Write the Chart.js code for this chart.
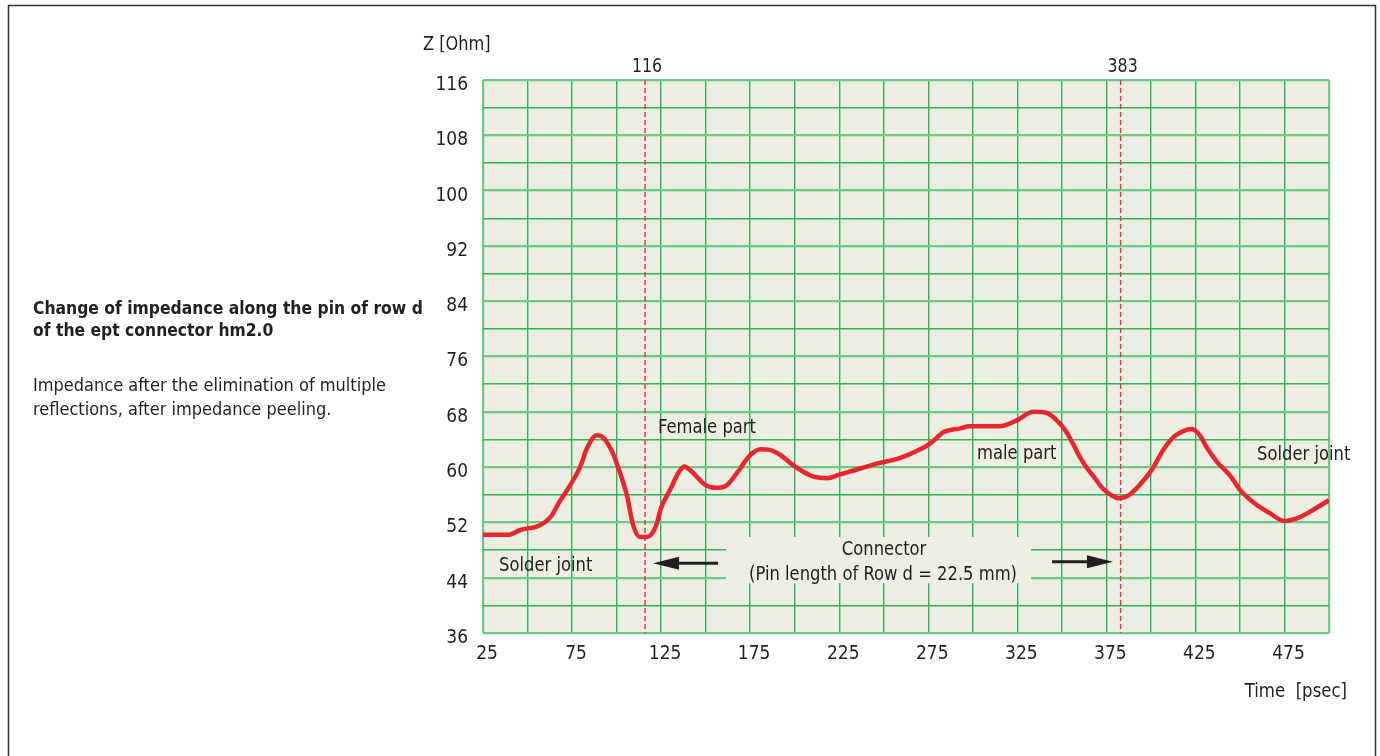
<!DOCTYPE html>
<html>
<head>
<meta charset="utf-8">
<script src="https://cdn.jsdelivr.net/npm/chart.js@4.4.1/dist/chart.umd.min.js"></script>
<style>
  html, body { margin: 0; padding: 0; background: #ffffff; }
  #wrap { width: 1380px; height: 756px; position: relative; }
</style>
</head>
<body>
<div id="wrap"><canvas id="c" width="1380" height="756"></canvas></div>
<script>
// ---- data ----
const timePs = [25, 39, 46, 57, 63, 68, 74, 80, 83, 89, 92, 97, 100, 106, 109, 113, 117, 122, 125, 130,
  135, 138, 142, 150, 156, 162, 168, 175, 181, 186, 192, 198, 205, 211, 218, 225, 237, 246, 259, 270,
  276, 284, 293, 298, 315, 325, 334, 341, 347, 352, 356, 360, 364, 368, 373, 378, 382, 388, 396, 401,
  407, 413, 420, 423, 428, 431, 437, 445, 450, 458, 467, 475, 484, 491, 500];
const impedanceOhm = [50.2, 50.2, 50.9, 51.6, 52.8, 55.0, 57.4, 60.3, 62.5, 64.6, 64.4, 62.5, 60.6, 55.7, 51.9, 49.9, 49.9, 51.4, 54.1, 56.7,
  59.3, 60.1, 59.4, 57.4, 57.0, 57.4, 59.3, 61.75, 62.6, 62.5, 61.75, 60.5, 59.3, 58.6, 58.4, 58.9, 59.8, 60.5, 61.3, 62.5,
  63.4, 65.1, 65.6, 65.9, 65.9, 66.8, 68.0, 67.9, 66.8, 65.3, 63.5, 61.5, 59.9, 58.6, 56.9, 55.9, 55.5, 56.0, 58.1, 59.8,
  62.5, 64.4, 65.4, 65.5, 64.4, 63.0, 60.8, 58.6, 56.7, 54.8, 53.3, 52.2, 52.8, 53.8, 55.2];
const markerTimes = [116, 383];
const xTickLabels = [25, 75, 125, 175, 225, 275, 325, 375, 425, 475];
const yTickLabels = [36, 44, 52, 60, 68, 76, 84, 92, 100, 108, 116];

// ---- style ----
const FONT = "'Liberation Sans Narrow', 'Arial Narrow', 'DejaVu Sans Condensed', sans-serif";
const TEXT = '#231f20';
const PLOT_BG = '#edede1';
const GRID_MAJOR = '#6acb85';
const GRID_MINOR = '#2fb356';
const CURVE = '#e8262d';
const SQUEEZE = 0.91;

const plotLabels = [
  { text: 'Female part', t: 123.3, z: 64.9, align: 'left' },
  { text: 'Solder joint', t: 34, z: 45.0, align: 'left' },
  { text: 'male part', t: 302.4, z: 61.2, align: 'left' },
  { text: 'Solder joint', t: 459.6, z: 61.0, align: 'left' },
  { text: 'Connector', t: 250.2, z: 47.3, align: 'center' },
  { text: '(Pin length of Row d = 22.5 mm)', t: 249.6, z: 43.7, align: 'center' }
];
const arrows = [
  { from: 157, to: 120.5, z: 46.1 },
  { from: 344.5, to: 378.7, z: 46.3 }
];
const labelBox = { t0: 161.4, t1: 332.7, z0: 43.2, z1: 49.9 };

function drawText(ctx, text, x, y, align, sx) {
  ctx.save();
  ctx.translate(x, y);
  ctx.scale(sx, 1);
  ctx.textAlign = align;
  ctx.fillText(text, 0, 0);
  ctx.restore();
}

const decor = {
  id: 'decor',
  beforeDraw(chart) {
    const { ctx, chartArea: a } = chart;
    ctx.save();
    ctx.fillStyle = '#ffffff';
    ctx.fillRect(0, 0, chart.width, chart.height);
    ctx.fillStyle = PLOT_BG;
    ctx.fillRect(a.left, a.top, a.right - a.left, a.bottom - a.top);
    ctx.restore();
  },
  beforeDatasetsDraw(chart) {
    const { ctx, chartArea: a, scales: { x, y } } = chart;
    ctx.save();
    // background patch behind the connector label
    ctx.fillStyle = PLOT_BG;
    const bx0 = x.getPixelForValue(labelBox.t0), bx1 = x.getPixelForValue(labelBox.t1);
    const by0 = y.getPixelForValue(labelBox.z1), by1 = y.getPixelForValue(labelBox.z0);
    ctx.fillRect(bx0, by0, bx1 - bx0, by1 - by0);
    // dashed marker lines
    ctx.strokeStyle = '#e2323a';
    ctx.lineWidth = 1.4;
    ctx.setLineDash([5, 3]);
    markerTimes.forEach(t => {
      const px = x.getPixelForValue(t);
      ctx.beginPath();
      ctx.moveTo(px, a.top);
      ctx.lineTo(px, a.bottom);
      ctx.stroke();
    });
    ctx.setLineDash([]);
    ctx.restore();
  },
  afterDraw(chart) {
    const { ctx, chartArea: a, scales: { x, y } } = chart;
    ctx.save();
    ctx.fillStyle = TEXT;
    ctx.textBaseline = 'alphabetic';
    ctx.font = `20px ${FONT}`;
    // marker values on top
    markerTimes.forEach(t => {
      drawText(ctx, String(t), x.getPixelForValue(t) + 2, a.top - 8, 'center', 0.88);
    });
    // axis titles
    drawText(ctx, 'Z [Ohm]', 423, 50, 'left', 0.9);
    drawText(ctx, 'Time  [psec]', 1347, 697, 'right', 0.92);
    // in-plot labels
    plotLabels.forEach(l => {
      drawText(ctx, l.text, x.getPixelForValue(l.t), y.getPixelForValue(l.z), l.align, SQUEEZE);
    });
    // arrows
    ctx.strokeStyle = TEXT;
    ctx.lineWidth = 3;
    arrows.forEach(ar => {
      const x0 = x.getPixelForValue(ar.from), x1 = x.getPixelForValue(ar.to);
      const py = y.getPixelForValue(ar.z);
      const dir = Math.sign(x1 - x0);
      const headLen = 26;
      ctx.beginPath();
      ctx.moveTo(x0, py);
      ctx.lineTo(x1 - dir * headLen, py);
      ctx.stroke();
      ctx.beginPath();
      ctx.moveTo(x1, py);
      ctx.lineTo(x1 - dir * headLen, py - 6.5);
      ctx.lineTo(x1 - dir * headLen, py + 6.5);
      ctx.closePath();
      ctx.fill();
    });
    // left description
    ctx.font = `bold 18px ${FONT}`;
    drawText(ctx, 'Change of impedance along the pin of row d', 33, 314, 'left', 0.963);
    drawText(ctx, 'of the ept connector hm2.0', 33, 336, 'left', 0.963);
    ctx.font = `18px ${FONT}`;
    drawText(ctx, 'Impedance after the elimination of multiple', 33, 391, 'left', 1.0);
    drawText(ctx, 'reflections, after impedance peeling.', 33, 415, 'left', 1.0);
    // frame
    ctx.strokeStyle = '#333333';
    ctx.lineWidth = 1.5;
    ctx.beginPath();
    ctx.moveTo(8.5, 756);
    ctx.lineTo(8.5, 5.5);
    ctx.lineTo(1375.5, 5.5);
    ctx.lineTo(1375.5, 756);
    ctx.stroke();
    ctx.restore();
  }
};

new Chart(document.getElementById('c'), {
  type: 'line',
  data: {
    datasets: [{
      data: timePs.map((t, i) => ({ x: t, y: impedanceOhm[i] })),
      borderColor: CURVE,
      borderWidth: 4.5,
      pointRadius: 0,
      cubicInterpolationMode: 'monotone',
      fill: false
    }]
  },
  options: {
    responsive: false,
    animation: false,
    devicePixelRatio: 1,
    layout: { padding: { left: 0, right: 51, top: 80, bottom: 0 } },
    plugins: { legend: { display: false }, tooltip: { enabled: false } },
    scales: {
      x: {
        type: 'linear',
        min: 25, max: 500,
        border: { display: false },
        afterFit(s) { s.height = 123; },
        grid: {
          drawTicks: false,
          color: c => (c.tick && (c.tick.value === 25 || c.tick.value === 500)) ? GRID_MAJOR : GRID_MINOR,
          lineWidth: c => (c.tick && (c.tick.value === 25 || c.tick.value === 500)) ? 2.2 : 1.4
        },
        ticks: {
          stepSize: 25,
          autoSkip: false,
          maxRotation: 0,
          padding: 10,
          labelOffset: 4,
          color: TEXT,
          font: { family: FONT, size: 19 },
          callback: v => xTickLabels.includes(v) ? String(v) : ''
        }
      },
      y: {
        type: 'linear',
        min: 36, max: 116,
        border: { display: false },
        afterFit(s) { s.width = 483; },
        grid: {
          drawTicks: false,
          color: c => (c.tick && yTickLabels.includes(c.tick.value)) ? GRID_MAJOR : GRID_MINOR,
          lineWidth: c => (c.tick && yTickLabels.includes(c.tick.value)) ? 2.2 : 1.4
        },
        ticks: {
          stepSize: 4,
          autoSkip: false,
          padding: 15,
          labelOffset: 5,
          color: TEXT,
          font: { family: FONT, size: 19 },
          callback: v => yTickLabels.includes(v) ? String(v) : ''
        }
      }
    }
  },
  plugins: [decor]
});
</script>
</body>
</html>
